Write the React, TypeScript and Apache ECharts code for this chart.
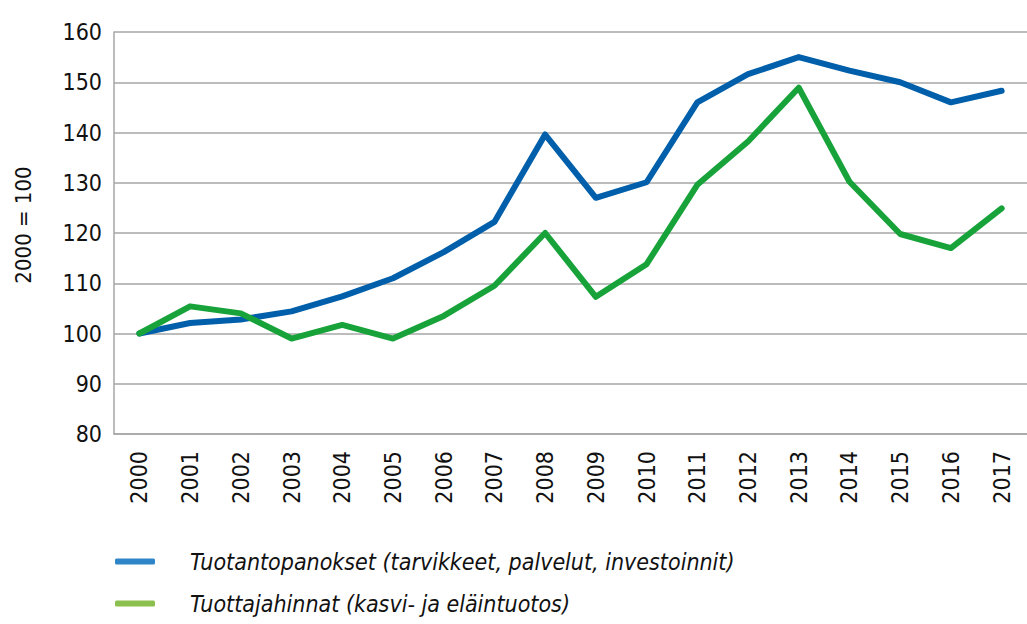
import React, { useEffect, useRef } from "react";
import * as echarts from "echarts";

const years = ["2000","2001","2002","2003","2004","2005","2006","2007","2008","2009","2010","2011","2012","2013","2014","2015","2016","2017"];
const inputCosts = [100, 102.1, 102.8, 104.4, 107.4, 111, 116.2, 122.2, 139.6, 127, 130.1, 146, 151.6, 155, 152.3, 150, 146, 148.3];
const producerPrices = [100, 105.4, 104, 99, 101.7, 99, 103.5, 109.5, 120, 107.3, 113.8, 129.6, 138.2, 148.9, 130.2, 119.8, 117, 124.9];
const seriesNames = ["Tuotantopanokset (tarvikkeet, palvelut, investoinnit)", "Tuottajahinnat (kasvi- ja eläintuotos)"];
const yTicks = { min: 80, max: 160, interval: 10 };
const yAxisName = "2000 = 100";

const FONT = '"Liberation Sans Narrow", "DejaVu Sans Condensed", "Roboto Condensed", sans-serif';

export default function App() {
  const ref = useRef<HTMLDivElement>(null);
  useEffect(() => {
    if (!ref.current) return;
    const chart = echarts.init(ref.current, undefined, { renderer: "svg" });
    const legendText = { fontFamily: FONT, fontSize: 23, fontStyle: "italic", color: "#111" };
    chart.setOption({
      animation: false,
      backgroundColor: "#fff",
      grid: { left: 114, right: -10.6, top: 32, bottom: 190, containLabel: false },
      xAxis: {
        type: "category",
        data: years,
        boundaryGap: true,
        axisLine: { show: true, lineStyle: { color: "#a6a6a6", width: 1.5 } },
        axisTick: { show: false },
        axisLabel: { rotate: 90, margin: 17, fontFamily: FONT, fontSize: 23, color: "#111" },
        splitLine: { show: false },
      },
      yAxis: {
        type: "value",
        min: yTicks.min,
        max: yTicks.max,
        interval: yTicks.interval,
        name: yAxisName,
        nameLocation: "middle",
        nameGap: 80,
        nameRotate: 90,
        nameTextStyle: { fontFamily: FONT, fontSize: 22, color: "#111", padding: [0, 0, 0, 16] },
        axisLine: { show: true, lineStyle: { color: "#a6a6a6", width: 1.5 } },
        axisTick: { show: false },
        axisLabel: { margin: 12, fontFamily: FONT, fontSize: 23, color: "#111" },
        splitLine: { show: true, lineStyle: { color: "#a6a6a6", width: 1.5 } },
      },
      legend: [
        {
          orient: "horizontal",
          left: 110,
          top: 545,
          itemWidth: 40,
          itemHeight: 6,
          itemGap: 10,
          icon: "roundRect",
          selectedMode: false,
          textStyle: { ...legendText, padding: [0, 0, 0, 30] },
          data: [{ name: seriesNames[0], itemStyle: { color: "#2e86c8" } }],
        },
        {
          orient: "horizontal",
          left: 110,
          top: 587,
          itemWidth: 40,
          itemHeight: 6,
          itemGap: 10,
          icon: "roundRect",
          selectedMode: false,
          textStyle: { ...legendText, padding: [0, 0, 0, 30] },
          data: [{ name: seriesNames[1], itemStyle: { color: "#8bc04f" } }],
        },
      ],
      series: [
        {
          name: seriesNames[0],
          type: "line",
          data: inputCosts,
          symbol: "none",
          lineStyle: { color: "#005faa", width: 6, cap: "round", join: "round" },
          itemStyle: { color: "#005faa" },
        },
        {
          name: seriesNames[1],
          type: "line",
          data: producerPrices,
          symbol: "none",
          lineStyle: { color: "#18a33a", width: 6, cap: "round", join: "round" },
          itemStyle: { color: "#18a33a" },
        },
      ],
    });
    return () => chart.dispose();
  }, []);
  return (
    <div
      ref={ref}
      style={{ position: "fixed", left: 0, top: 0, width: 1027, height: 624, overflow: "hidden" }}
    />
  );
}
